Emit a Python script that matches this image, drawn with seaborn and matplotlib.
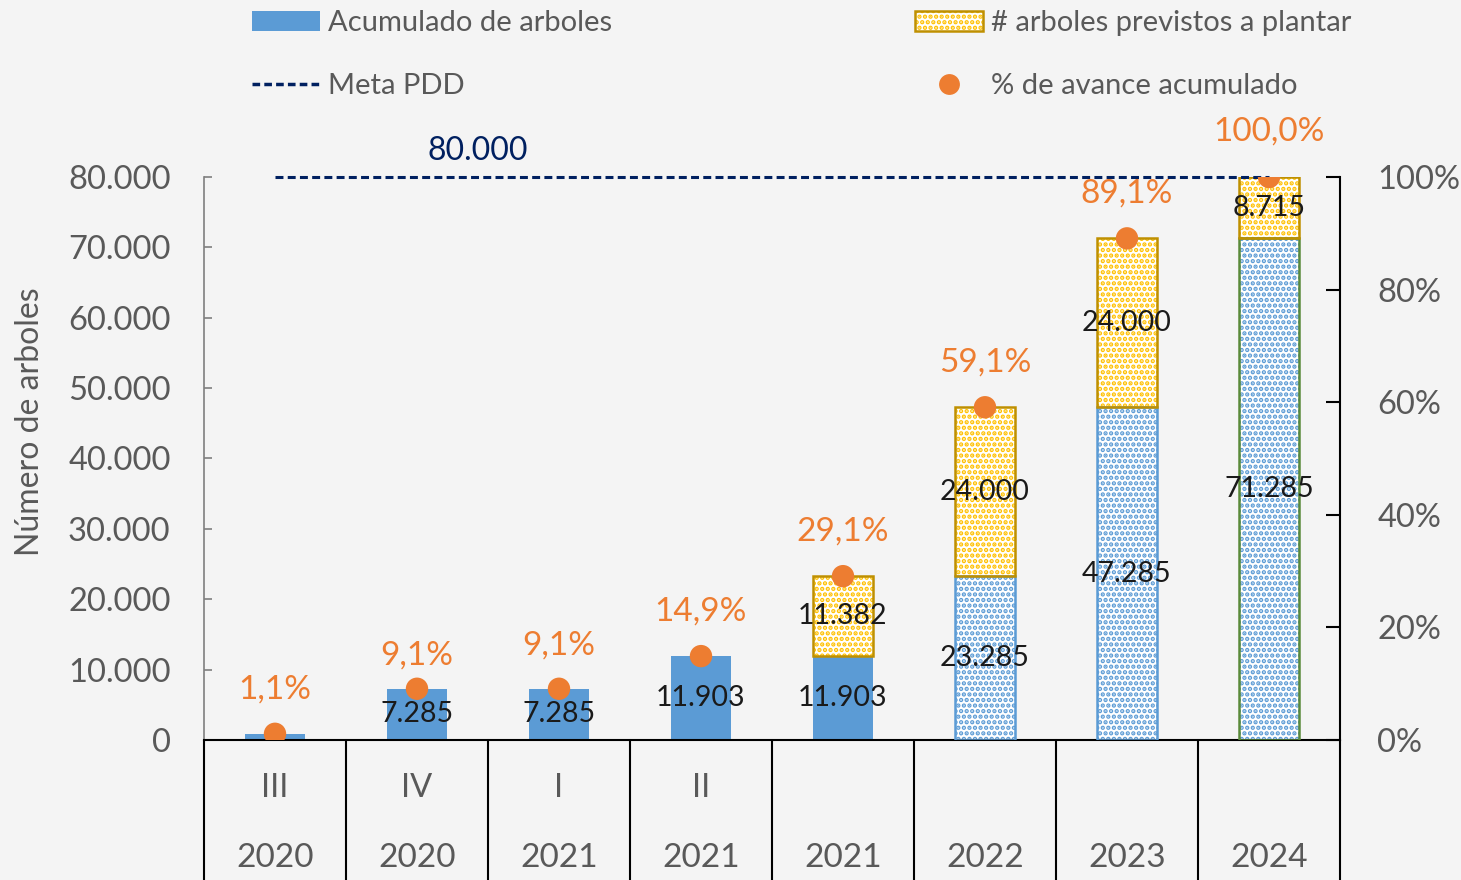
import numpy as np
import pandas as pd
import matplotlib
matplotlib.use("Agg")
import matplotlib.pyplot as plt
import seaborn as sns
from matplotlib.patches import Patch
from matplotlib.lines import Line2D
from matplotlib.legend_handler import HandlerTuple
from matplotlib.transforms import blended_transform_factory
from matplotlib.ticker import FuncFormatter, PercentFormatter

# ---------------- data ----------------
trimestres = ["III", "IV", "I", "II", "", "", "", ""]
anios = ["2020", "2020", "2021", "2021", "2021", "2022", "2023", "2024"]
acumulado = [880, 7285, 7285, 11903, 11903, 23285, 47285, 71285]
previstos = [0, 0, 0, 0, 11382, 24000, 24000, 8715]
avance = [0.011, 0.091, 0.091, 0.149, 0.291, 0.591, 0.891, 1.000]
proyectado = [False, False, False, False, False, True, True, True]
meta = 80000
yticks_izq = [0, 10000, 20000, 30000, 40000, 50000, 60000, 70000, 80000]
yticks_der = [0, 0.2, 0.4, 0.6, 0.8, 1.0]
leyenda = ["Acumulado de arboles", "Meta PDD",
           "# arboles previstos a plantar", "% de avance acumulado"]

# ---------------- style ----------------
BLUE = "#5B9BD5"
YELLOW = "#FFC000"
GOLD = "#BF9000"
GREEN = "#5A8A3A"
ORANGE = "#ED7D31"
NAVY = "#002060"
GRAY = "#595959"
BG = "#f4f4f4"
FONT = "Lato"
HATCH = "..."
BAR_W = 0.42

sns.set_theme(style="white")
plt.rcParams["font.family"] = [FONT, "DejaVu Sans"]
plt.rcParams["hatch.linewidth"] = 2.2

fig = plt.figure(figsize=(14.61, 8.8), dpi=100)
fig.patch.set_facecolor(BG)
ax = fig.add_axes([204 / 1461, 140 / 880, 1136 / 1461, 563 / 880])
ax.set_facecolor("none")

keys = [f"{t} {a}".strip() for t, a in zip(trimestres, anios)]
df = pd.DataFrame({"cat": keys, "acumulado": acumulado,
                   "previstos": previstos, "avance": avance})
x = np.arange(len(keys))

sns.barplot(data=df, x="cat", y="acumulado", color=BLUE, saturation=1,
            width=BAR_W, ax=ax, zorder=2, linewidth=0)

edge_proj = [BLUE, BLUE, GREEN]
j = 0
for i, p in enumerate(ax.patches[:len(keys)]):
    if proyectado[i]:
        p.set_facecolor("white")
        p.set_edgecolor(BLUE)
        p.set_hatch(HATCH)
        p.set_linewidth(0)
        ax.bar(x[i], acumulado[i], width=BAR_W, fill=False,
               edgecolor=edge_proj[j], linewidth=1.8, zorder=3)
        j += 1

mask = np.array(previstos) > 0
ax.bar(x[mask], np.array(previstos)[mask], bottom=np.array(acumulado)[mask],
       width=BAR_W, facecolor="white", edgecolor=YELLOW, hatch=HATCH,
       linewidth=0, zorder=2)
ax.bar(x[mask], np.array(previstos)[mask], bottom=np.array(acumulado)[mask],
       width=BAR_W, fill=False, edgecolor=GOLD, linewidth=1.8, zorder=3)

fmt_num = lambda v: f"{int(v):,}".replace(",", ".")

for i in x:
    if acumulado[i] >= 1000:
        ax.text(i, acumulado[i] / 2, fmt_num(acumulado[i]), ha="center",
                va="center", fontsize=20.5, color="#1a1a1a", zorder=6)
    if previstos[i] > 0:
        ax.text(i, acumulado[i] + previstos[i] / 2, fmt_num(previstos[i]),
                ha="center", va="center", fontsize=20.5, color="#1a1a1a", zorder=6)

# meta line
ax.plot([x[0], x[-1]], [meta, meta], color=NAVY, lw=2.2, dashes=(2.6, 1.4),
        clip_on=False, zorder=4)
ax.annotate(fmt_num(meta), (1.43, meta), xytext=(0, 19),
            textcoords="offset points", ha="center", va="center",
            fontsize=23, color=NAVY, annotation_clip=False)

ax.set_ylim(0, meta)
ax.set_yticks(yticks_izq)
ax.yaxis.set_major_formatter(FuncFormatter(lambda v, _: fmt_num(v)))
ax.tick_params(axis="y", direction="in", length=6, width=1.2, color="#7f7f7f",
               pad=24, labelsize=23.5, labelcolor=GRAY)
ax.tick_params(axis="x", length=0, labelbottom=False)
ax.set_xlabel("")
ax.set_ylabel("Número de arboles", fontsize=23, color=GRAY)
ax.yaxis.set_label_coords(-0.14, 0.565)
for s in ["top", "right"]:
    ax.spines[s].set_visible(False)
ax.spines["left"].set_color("#7f7f7f")
ax.spines["left"].set_linewidth(1.2)
ax.spines["bottom"].set_color("black")
ax.spines["bottom"].set_linewidth(1.5)

# table below
trans = blended_transform_factory(ax.transData, ax.transAxes)
for b in np.arange(-0.5, len(keys), 1.0):
    ax.add_line(Line2D([b, b], [0, -0.26], transform=trans, color="black",
                       lw=1.5, clip_on=False))
for i in x:
    ax.text(i, -0.085, trimestres[i], transform=trans, ha="center",
            va="center", fontsize=23.5, color=GRAY)
    ax.text(i, -0.2096, anios[i], transform=trans, ha="center",
            va="center", fontsize=24, color=GRAY)

# percent axis
ax2 = ax.twinx()
ax2.set_facecolor("none")
sns.scatterplot(x=x, y=avance, ax=ax2, color=ORANGE, s=260,
                edgecolor="none", linewidth=0, zorder=5, legend=False)
ax2.set_ylim(0, 1)
ax.set_xlim(-0.5, len(keys) - 0.5)
ax2.set_yticks(yticks_der)
ax2.yaxis.set_major_formatter(PercentFormatter(1.0, decimals=0))
ax2.tick_params(axis="y", direction="in", length=10, width=1.5, color="black",
                pad=27, labelsize=23.5, labelcolor=GRAY)
for s in ["top", "left", "bottom"]:
    ax2.spines[s].set_visible(False)
ax2.spines["right"].set_color("black")
ax2.spines["right"].set_linewidth(1.5)
ax2.set_ylabel("")

offs = [44, 33, 43, 45, 45, 45, 45, 45]
for i, p in enumerate(avance):
    ax2.annotate(f"{p * 100:.1f}%".replace(".", ","), (i, p),
                 xytext=(0, offs[i] * 0.72), textcoords="offset points",
                 ha="center", va="center", fontsize=24, color=ORANGE,
                 annotation_clip=False)

# legends
h_acum = Patch(facecolor=BLUE, edgecolor="none")
h_meta = Line2D([], [], color=NAVY, lw=2.5, dashes=(2.2, 1.2))
h_prev = (Patch(facecolor="white", edgecolor=YELLOW, hatch=HATCH, linewidth=0),
          Patch(fill=False, edgecolor=GOLD, linewidth=1.8))
h_av = Line2D([], [], color=ORANGE, marker="o", ls="none", markersize=15,
              markeredgewidth=0)
common = dict(loc="upper left", frameon=False, fontsize=21, labelcolor=GRAY,
              handlelength=2.33, handletextpad=0.27, labelspacing=1.28,
              borderpad=0, borderaxespad=0,
              handler_map={tuple: HandlerTuple(ndivide=1, pad=0)})
fig.legend([h_acum, h_meta], leyenda[:2], bbox_to_anchor=(252 / 1461, 1 - 10 / 880),
           **common)
fig.legend([h_prev, h_av], leyenda[2:], bbox_to_anchor=(915 / 1461, 1 - 10 / 880),
           **common)

fig.savefig("out.png", dpi=100, facecolor=fig.get_facecolor())
